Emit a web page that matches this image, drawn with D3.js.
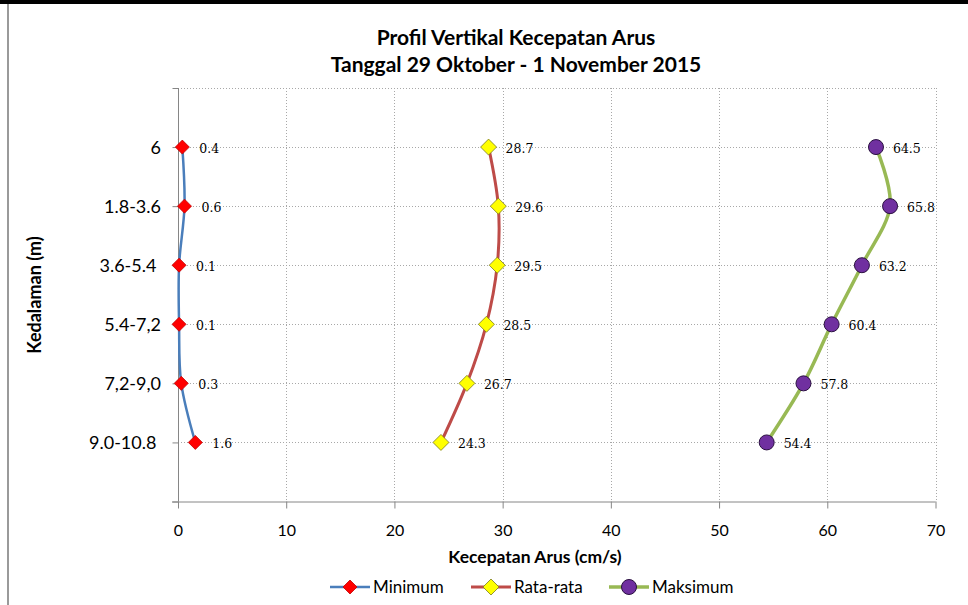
<!DOCTYPE html>
<html><head><meta charset="utf-8">
<script src="https://cdn.jsdelivr.net/npm/d3@7"></script>
<style>body{margin:0;background:#fff}svg{display:block}</style>
</head><body>
<script>
const categories = ["6","1.8-3.6","3.6-5.4 ","5.4-7,2","7,2-9,0","9.0-10.8 "];
const minimum = [0.4,0.6,0.1,0.1,0.3,1.6];
const rataRata = [28.7,29.6,29.5,28.5,26.7,24.3];
const maksimum = [64.5,65.8,63.2,60.4,57.8,54.4];
const xTicks = [0,10,20,30,40,50,60,70];
const seriesNames = ["Minimum","Rata-rata","Maksimum"];

const W=968,H=605;
const svg=d3.select("body").append("svg").attr("width",W).attr("height",H);
const sans="Lato, 'Open Sans', sans-serif";

// frame
svg.append("rect").attr("x",0).attr("y",0).attr("width",W).attr("height",4).attr("fill","#000");
svg.append("rect").attr("x",7).attr("y",4).attr("width",2).attr("height",H-4).attr("fill","#9a9a9a");

const x=d3.scaleLinear().domain([0,70]).range([178,935.5]);
const y=d3.scaleLinear().domain([0,7]).range([501.5,88]);
const yOf=i=>y(7-(i+1)); // first category at top

// gridlines
const grid=svg.append("g").attr("stroke","#a8a8a8").attr("stroke-width",1).attr("stroke-dasharray","1,2");
xTicks.filter(d=>d>0).forEach(d=>grid.append("line").attr("x1",Math.round(x(d))+0.5).attr("x2",Math.round(x(d))+0.5).attr("y1",88).attr("y2",501.5));
d3.range(1,8).forEach(v=>grid.append("line").attr("x1",178).attr("x2",935.5).attr("y1",Math.round(y(v))+0.5).attr("y2",Math.round(y(v))+0.5));

// axes
const xAxis=d3.axisBottom(x).tickValues(xTicks).tickSize(7).tickPadding(16).tickFormat(d3.format("d"));
const gx=svg.append("g").attr("transform","translate(0,501.5)").call(xAxis);
gx.select(".domain").attr("stroke","#868686").attr("d","M172,0.5H935.5");
gx.selectAll(".tick line").attr("stroke","#868686");
gx.selectAll(".tick text").attr("font-family",sans).attr("font-size",16).attr("fill","#000");

const yAxis=d3.axisLeft(y).tickValues(d3.range(0,8)).tickSize(6).tickFormat(()=>"");
const gy=svg.append("g").attr("transform","translate(178.5,0)").call(yAxis);
gy.select(".domain").attr("stroke","#868686").attr("d","M0,88V501.5");
gy.selectAll(".tick line").attr("stroke","#868686");

svg.append("g").selectAll("text").data(categories).join("text")
  .attr("x",161).attr("y",(d,i)=>yOf(i)).attr("dy","0.36em").attr("text-anchor","end")
  .attr("font-family",sans).attr("font-size",18).attr("fill","#000").attr("xml:space","preserve").text(d=>d);

// titles
svg.append("text").attr("x",516).attr("y",45).attr("text-anchor","middle").attr("font-family",sans).attr("font-weight","bold").attr("font-size",21).text("Profil Vertikal Kecepatan Arus");
svg.append("text").attr("x",516).attr("y",72).attr("text-anchor","middle").attr("font-family",sans).attr("font-weight","bold").attr("font-size",21).text("Tanggal 29 Oktober - 1 November 2015");
svg.append("text").attr("x",535).attr("y",563).attr("text-anchor","middle").attr("font-family",sans).attr("font-weight","bold").attr("font-size",17.5).text("Kecepatan Arus (cm/s)");
svg.append("text").attr("transform","translate(41,295) rotate(-90)").attr("text-anchor","middle").attr("font-family",sans).attr("font-weight","bold").attr("font-size",18).text("Kedalaman (m)");

const series=[
 {name:seriesNames[0],vals:minimum,line:"#4a7ebb",lw:2.5,marker:"diamond",fill:"#ff0000",stroke:"#c00000",size:7},
 {name:seriesNames[1],vals:rataRata,line:"#be4b48",lw:3,marker:"diamond",fill:"#ffff00",stroke:"#7a7a20",size:8},
 {name:seriesNames[2],vals:maksimum,line:"#98b954",lw:3.5,marker:"circle",fill:"#7030a0",stroke:"#2a1040",size:7.5}
];
const line=d3.line().x(d=>x(d.v)).y(d=>yOf(d.i)).curve(d3.curveCardinal.tension(0));
function drawMarker(g,s,cx,cy){
  if(s.marker==="diamond"){
    const r=s.size;
    g.append("path").attr("d",`M${cx},${cy-r}L${cx+r},${cy}L${cx},${cy+r}L${cx-r},${cy}Z`).attr("fill",s.fill).attr("stroke",s.stroke).attr("stroke-width",0.8);
  } else {
    g.append("circle").attr("cx",cx).attr("cy",cy).attr("r",s.size).attr("fill",s.fill).attr("stroke",s.stroke).attr("stroke-width",1);
  }
}
series.forEach(s=>{
  const pts=s.vals.map((v,i)=>({v,i}));
  svg.append("path").datum(pts).attr("d",line).attr("fill","none").attr("stroke",s.line).attr("stroke-width",s.lw);
  const g=svg.append("g");
  pts.forEach(p=>drawMarker(g,s,x(p.v),yOf(p.i)));
  svg.append("g").selectAll("text").data(pts).join("text")
    .attr("x",d=>x(d.v)+17).attr("y",d=>yOf(d.i)+1.5).attr("dy","0.35em")
    .attr("font-family","'DejaVu Serif', serif").attr("font-size",12.5).attr("fill","#000")
    .text(d=>d.v.toFixed(1));
});

// legend
const legC=[350,491,629];
series.forEach((s,k)=>{
  const g=svg.append("g");
  const ly=587;
  g.append("line").attr("x1",legC[k]-20).attr("x2",legC[k]+20).attr("y1",ly).attr("y2",ly).attr("stroke",s.line).attr("stroke-width",s.lw);
  drawMarker(g,s,legC[k],ly);
  g.append("text").attr("x",legC[k]+23).attr("y",ly).attr("dy","0.36em").attr("font-family",sans).attr("font-size",17).text(s.name);
});
</script>
</body></html>
